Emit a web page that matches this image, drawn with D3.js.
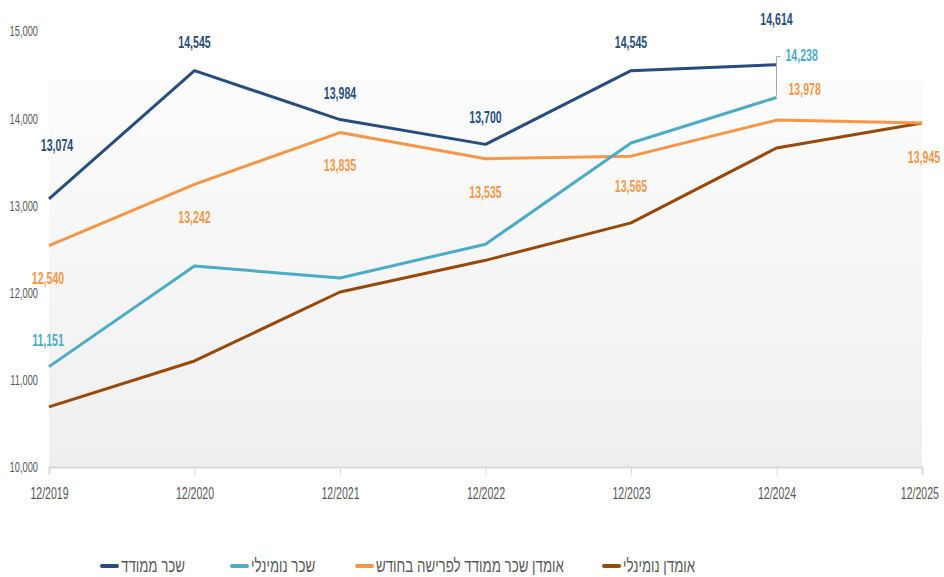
<!DOCTYPE html>
<html>
<head>
<meta charset="utf-8">
<script src="https://cdn.jsdelivr.net/npm/d3@7"></script>
<style>
  body { margin: 0; background: #fff; }
  text { font-family: "Liberation Sans", "DejaVu Sans", sans-serif; }
</style>
</head>
<body>
<script>
// chart data
var categories = ["12/2019", "12/2020", "12/2021", "12/2022", "12/2023", "12/2024", "12/2025"];
var yTicks = [10000, 11000, 12000, 13000, 14000, 15000];

var realWage = [13074, 14545, 13984, 13700, 14545, 14614, null];
var nominalWage = [11151, 12305, 12167, 12555, 13716, 14238, null];
var estRealWage = [12540, 13242, 13835, 13535, 13565, 13978, 13945];
var estNominal = [10690, 11216, 12007, 12370, 12800, 13658, 13945];

var seriesNames = ["שכר ממודד", "שכר נומינלי", "אומדן שכר ממודד לפרישה בחודש", "אומדן נומינלי"];
var seriesColors = ["#264d7e", "#4bacc6", "#f79646", "#984807"];
var seriesValues = [realWage, nominalWage, estRealWage, estNominal];

var width = 944, height = 577;
var margin = {top: 31, right: 22, bottom: 110, left: 49};

var svg = d3.select("body").append("svg")
  .attr("width", width)
  .attr("height", height);

var x = d3.scalePoint().domain(categories).range([margin.left, width - margin.right]);
var y = d3.scaleLinear().domain([10000, 15000]).range([height - margin.bottom, margin.top]);

// plot background gradient
var grad = svg.append("defs").append("linearGradient")
  .attr("id", "bg").attr("x1", 0).attr("y1", 0).attr("x2", 0).attr("y2", 1);
grad.append("stop").attr("offset", "0%").attr("stop-color", "#fcfcfc");
grad.append("stop").attr("offset", "100%").attr("stop-color", "#efefef");

svg.append("rect")
  .attr("x", x.range()[0])
  .attr("y", 80)
  .attr("width", x.range()[1] - x.range()[0])
  .attr("height", y(10000) - 80)
  .attr("fill", "url(#bg)");

// x axis
var xAxis = svg.append("g")
  .attr("transform", "translate(0," + y(10000) + ")")
  .call(d3.axisBottom(x).tickSize(8).tickPadding(13));
xAxis.select(".domain").attr("stroke", "#d9d9d9").attr("stroke-width", 2);
xAxis.selectAll(".tick line").attr("stroke", "#d9d9d9");
xAxis.selectAll("text")
  .attr("fill", "#595959")
  .attr("transform", "scale(0.66,1)")
  .style("font-size", "16px")
  .style("font-family", "'Liberation Sans', sans-serif");
// last label sits a little inside the edge
xAxis.selectAll(".tick").filter(function(d) { return d == "12/2025"; })
  .select("text").attr("x", -4);

// y axis
var yAxis = svg.append("g")
  .attr("transform", "translate(" + (margin.left - 11) + ",0)")
  .call(d3.axisLeft(y).tickValues(yTicks).tickSize(0).tickPadding(0).tickFormat(d3.format(",")));
yAxis.select(".domain").remove();
yAxis.selectAll("text")
  .attr("fill", "#595959")
  .attr("transform", "scale(0.62,1)")
  .style("font-size", "15px")
  .style("font-family", "'Liberation Sans', sans-serif");

var line = d3.line()
  .defined(function(d) { return d != null; })
  .x(function(d, i) { return x(categories[i]); })
  .y(function(d) { return y(d); });

// draw order: brown, orange, light blue, dark blue on top
[3, 2, 1, 0].forEach(function(s) {
  svg.append("path")
    .datum(seriesValues[s])
    .attr("fill", "none")
    .attr("stroke", seriesColors[s])
    .attr("stroke-width", 3)
    .attr("stroke-linejoin", "round")
    .attr("d", line);
});

// data labels: [series, index, dx, dy, anchor]
var labels = [
  [0, 0, 8, -49, "middle"], [0, 1, 0, -24, "middle"], [0, 2, 0, -22, "middle"],
  [0, 3, 0, -22, "middle"], [0, 4, 0, -24, "middle"], [0, 5, 0, -41, "middle"],
  [1, 0, -1, -22, "middle"], [1, 5, 9, -37, "start"],
  [2, 0, -1, 37, "middle"], [2, 1, 0, 38, "middle"], [2, 2, 0, 37, "middle"],
  [2, 3, 0, 38, "middle"], [2, 4, 0, 35, "middle"], [2, 5, 12, -26, "start"],
  [2, 6, 2, 39, "middle"]
];

// leader line for the 12/2024 nominal label
var lx = x(categories[5]);
svg.append("path")
  .attr("d", "M" + lx + "," + (y(nominalWage[5]) - 2) + "V" + (y(nominalWage[5]) - 41) + "h4")
  .attr("fill", "none")
  .attr("stroke", "#a6a6a6")
  .attr("stroke-width", 1);

svg.selectAll(".dlabel")
  .data(labels)
  .enter()
  .append("text")
  .attr("class", "dlabel")
  .attr("transform", function(d) {
    return "translate(" + (x(categories[d[1]]) + d[2]) + "," + (y(seriesValues[d[0]][d[1]]) + d[3] + 1) + ") scale(0.66,1)";
  })
  .attr("text-anchor", function(d) { return d[4]; })
  .attr("fill", function(d) { return seriesColors[d[0]]; })
  .style("font-size", "16px")
  .style("font-weight", "bold")
  .text(function(d) { return d3.format(",")(seriesValues[d[0]][d[1]]); });

// legend
var legendX = [102, 232, 357, 604];
var legend = svg.selectAll(".legend")
  .data(seriesNames)
  .enter()
  .append("g")
  .attr("class", "legend")
  .attr("transform", function(d, i) { return "translate(" + legendX[i] + ",566)"; });

legend.append("line")
  .attr("x1", 0).attr("x2", 15)
  .attr("stroke", function(d, i) { return seriesColors[i]; })
  .attr("stroke-width", 4)
  .attr("stroke-linecap", "round");

legend.append("text")
  .attr("transform", "translate(19,6) scale(0.74,1)")
  .attr("fill", "#595959")
  .style("font-size", "18px")
  .text(function(d) { return d; });
</script>
</body>
</html>
